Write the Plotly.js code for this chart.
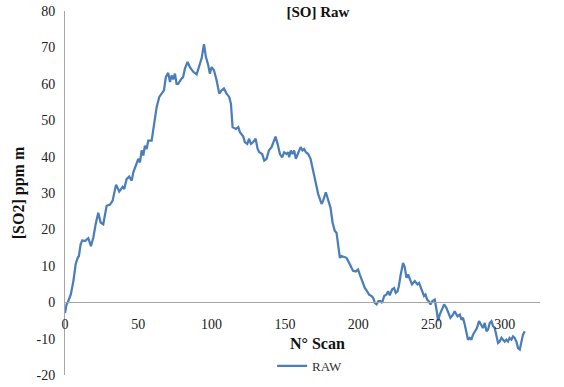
<!DOCTYPE html>
<html>
<head>
<meta charset="utf-8">
<script src="https://cdn.plot.ly/plotly-3.0.1.min.js"></script>
<style>html,body{margin:0;padding:0;background:#fff}#chart{width:564px;height:387px}</style>
</head>
<body>
<div id="chart"></div>
<script>
var seriesName = "RAW";
var chartTitle = "[SO] Raw";
var xTitle = "N° Scan";
var yTitle = "[SO2] ppm m";

var scan = [0,1.1,2.3,4,5.7,7.3,8.7,9.5,10.7,11.8,13.6,15.9,17.7,19.3,20.9,22.7,24.3,26.1,28.4,30.7,32.5,34.8,37,39.3,40.4,42,43.8,45.5,46.6,48.9,50,51.1,52.3,53.4,54.5,55.7,56.8,59.1,60.9,62.5,64.3,65.9,67.5,68.8,70.4,71.6,72.7,73.8,75,76.1,77.2,79.5,80.6,81.8,83.6,85.2,87.5,89.8,90.9,93.2,94.8,96.1,97.7,98.8,100,101.6,103.4,105.2,106.8,108.4,110.2,112,113.2,114.3,116.6,118.2,119.3,121.6,122.7,124.3,125.6,126.8,128.4,130,131.4,132.5,134.5,135.9,137.5,139.1,140.9,142,143.6,145,146.6,148.1,149.5,151.1,152.2,152.9,154,155.2,156.3,157.5,159,160.7,162,163.1,164.3,165.9,167.5,169.3,170.9,172.7,175,176.1,177.9,179.5,181.1,182.5,184,185.2,186.3,187.5,188.6,190.2,192,193.8,195.4,196.5,198.4,199.9,201.1,202.9,204.5,206.1,207.4,209.1,210.2,211.3,212.5,213.8,215.2,216.3,217.7,219.3,220.4,221.5,223.1,224.5,225.6,226.8,227.7,229,230.6,231.8,232.9,234,235.7,236.7,238.6,240.4,241.5,243.2,244.2,244.9,245.9,247,248.1,249.3,250.6,252.2,253.4,254.5,255.6,257.2,258.6,260.2,261.8,262.9,264.7,265.8,267.7,269.3,270.4,271.5,272.7,273.8,274.9,276.1,277.2,278.3,279.5,281,282.4,284,285.1,286.3,287.5,288.6,289.7,290.9,292,293.1,294.3,295.4,296.5,297.7,298.8,299.9,301.1,302.2,303.3,304.5,305.6,306.7,307.9,309,310.2,311.3,312.4,313.6];

var raw = [-3,-0.6,0.3,2.2,5.8,10.5,12.2,12.7,16,17,16.8,17.6,15.4,17.7,21.4,24.6,21.9,21.4,26.5,26.8,27.9,32.3,30.4,31.7,31.1,33.8,34.5,33.4,35.7,38.4,39.4,38.4,41.7,40.3,43,42.1,44.4,44.4,49,53.6,56.4,57.3,58.2,61.9,63,60.5,62.3,61.2,62.8,60,60,61.4,61.9,64.2,66,64.6,63.3,62.6,64.2,67,70.9,67.4,65.1,62.8,64.6,63.7,61,57.3,58.2,58.7,57.3,56.4,54.5,48.1,47.6,48.1,46.7,45.5,44,43.5,44.9,43.5,44,44.9,42.1,41.2,40.7,38.9,39.4,41.7,42.6,44,45.5,43.5,40.7,39.8,41.2,40.7,41.2,39.8,41.7,40.7,41.7,39.4,41.2,42.6,41.7,42.1,41.2,40.7,39.4,36.1,32.5,29.7,27,27.9,30.2,28.3,26,21.9,19.6,19.1,15.9,12.2,12.7,12.4,12.2,10.8,9.5,8.6,8.4,9,7.6,5.8,3.9,3,2.1,1.7,1.2,-0.2,-0.6,0.3,0.3,-0.2,1.7,2.1,3,1.9,3.5,3.9,2.6,3,4.4,7.6,10.8,9.5,6.7,7.6,5.8,4.9,5.8,4.9,5.3,3.5,3,1.7,2.1,0.7,0.3,-0.6,0.3,0.7,-2,-5.2,-3.4,-1.6,-0.6,-1.6,-3,-4.3,-3.4,-2.5,-3.9,-3.4,-4.8,-4.3,-6.2,-8,-10.3,-9.8,-10.3,-8.9,-8,-7.1,-5.2,-6.2,-7.1,-5.7,-8,-7.5,-5.7,-5.2,-6.6,-7.1,-9.4,-11.2,-10.8,-9.8,-10.3,-10.8,-10.3,-10.8,-9.8,-10.3,-9.4,-9.8,-10.8,-12.6,-13,-10.8,-8.9,-8];

var xTicks = [0,50,100,150,200,250,300];
var yTicks = [-20,-10,0,10,20,30,40,50,60,70,80];

var serif = "Liberation Serif, Times New Roman, serif";
var axisGray = "#a6a6a6";

var trace = {
  x: scan, y: raw, type: "scatter", mode: "lines", name: seriesName,
  line: {color: "#4a7ebb", width: 2.25}
};

var layout = {
  width: 564, height: 387,
  margin: {l: 65, r: 24, t: 11, b: 12, autoexpand: false},
  paper_bgcolor: "#fff", plot_bgcolor: "rgba(0,0,0,0)",
  font: {family: serif, size: 14, color: "#222"},
  title: {text: "<b>" + chartTitle + "</b>", x: 318 / 564, xanchor: "center", y: 1 - 12 / 387, yanchor: "middle",
          font: {family: serif, size: 15, color: "#111"}},
  showlegend: true,
  legend: {orientation: "h", x: 0.436, y: -0.016, xanchor: "left", yanchor: "bottom",
           font: {family: serif, size: 13, color: "#333"}, bgcolor: "rgba(0,0,0,0)"},
  xaxis: {
    range: [0, 324], tickvals: xTicks, ticktext: xTicks.map(String),
    showgrid: false, zeroline: false, showline: true, linecolor: axisGray, linewidth: 1,
    anchor: "free", position: 0.2, ticks: "", ticklabelstandoff: 9,
    tickfont: {family: serif, size: 14, color: "#222"}
  },
  yaxis: {
    range: [-20, 80], tickvals: yTicks, ticktext: yTicks.map(String),
    showgrid: false, zeroline: false, showline: true, linecolor: axisGray, linewidth: 1,
    ticks: "", ticklabelstandoff: 6,
    tickfont: {family: serif, size: 14, color: "#222"},
    title: {text: "<b>" + yTitle + "</b>", font: {family: serif, size: 16, color: "#111"}, standoff: 7}
  },
  annotations: [{
    text: "<b>" + xTitle + "</b>", xref: "paper", yref: "paper",
    x: (317 - 65) / 475, y: (375 - 343) / 364, xanchor: "center", yanchor: "middle",
    showarrow: false, font: {family: serif, size: 16, color: "#111"}
  }]
};

Plotly.newPlot("chart", [trace], layout, {displayModeBar: false, staticPlot: true});
</script>
</body>
</html>
